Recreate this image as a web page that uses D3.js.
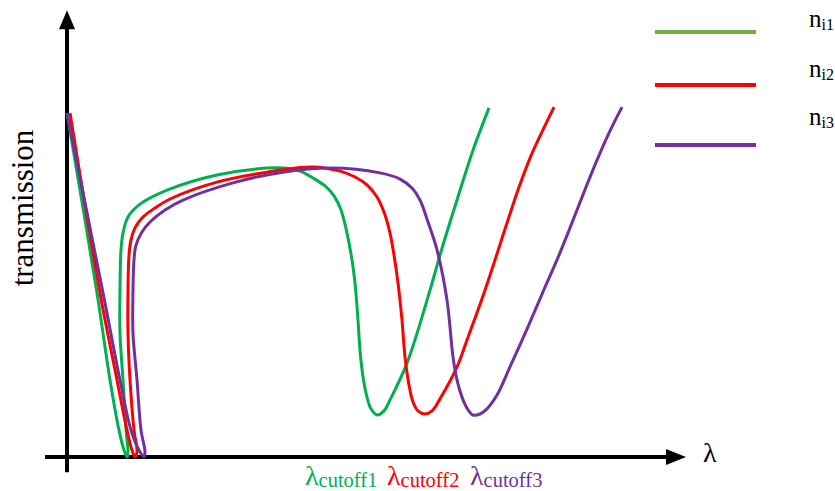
<!DOCTYPE html>
<html>
<head>
<meta charset="utf-8">
<script src="https://cdn.jsdelivr.net/npm/d3@7"></script>
<style>
  html, body { margin: 0; padding: 0; background: #fff; }
  svg { display: block; }
  text { font-family: "Liberation Serif", "Times New Roman", serif; }
</style>
</head>
<body>
<svg id="chart" width="835" height="491"></svg>
<script>
// Transmission spectra for three inner refractive indices (schematic).
// Wavelength in nm (schematic units), transmission normalised to the start value.
const seriesNames = ["n_i1", "n_i2", "n_i3"];
const curveColors = ["#00B050", "#FF0000", "#7030A0"];
const legendColors = ["#70AD47", "#FF0000", "#7030A0"];
const subLabels = ["i1", "i2", "i3"];
const cutoffLabels = ["cutoff1", "cutoff2", "cutoff3"];

const lambda1 = [400, 430, 443, 452, 457, 460, 461, 459, 456, 453, 453, 454, 456, 461, 473, 500, 550, 600, 618, 633, 646, 658, 667, 674, 680, 685, 688, 691, 693, 696, 700, 704, 710, 717, 723, 740, 763, 773, 790, 806, 822];
const trans1  = [1.000, 0.477, 0.224, 0.078, 0.020, 0.000, 0.015, 0.078, 0.224, 0.360, 0.485, 0.602, 0.651, 0.698, 0.735, 0.776, 0.820, 0.840, 0.840, 0.831, 0.811, 0.788, 0.759, 0.718, 0.651, 0.573, 0.506, 0.398, 0.311, 0.233, 0.174, 0.140, 0.122, 0.134, 0.166, 0.273, 0.485, 0.587, 0.747, 0.892, 1.015];

const lambda2 = [403, 433, 450, 460, 465, 468, 470, 467, 463, 461, 461, 462, 464, 468, 475, 488, 503, 550, 600, 646, 673, 688, 700, 710, 717, 723, 727, 731, 735, 738, 742, 746, 751, 758, 765, 773, 790, 800, 818, 840, 851, 863, 875, 887];
const trans2  = [1.000, 0.477, 0.224, 0.078, 0.020, 0.000, 0.015, 0.078, 0.224, 0.360, 0.485, 0.587, 0.631, 0.666, 0.695, 0.724, 0.750, 0.799, 0.828, 0.843, 0.831, 0.814, 0.791, 0.756, 0.712, 0.651, 0.587, 0.506, 0.398, 0.291, 0.209, 0.160, 0.134, 0.125, 0.134, 0.169, 0.262, 0.340, 0.485, 0.680, 0.776, 0.869, 0.945, 1.017];

const lambda3 = [400, 436, 453, 464, 472, 477, 478, 474, 470, 466, 466, 467, 469, 475, 483, 498, 516, 566, 616, 663, 713, 733, 745, 753, 761, 770, 780, 786, 790, 795, 800, 806, 813, 820, 830, 843, 860, 876, 890, 903, 917, 930, 943, 955];
const trans3  = [1.000, 0.477, 0.224, 0.078, 0.020, 0.000, 0.015, 0.078, 0.224, 0.360, 0.485, 0.573, 0.616, 0.654, 0.683, 0.718, 0.747, 0.797, 0.828, 0.840, 0.826, 0.808, 0.782, 0.747, 0.683, 0.602, 0.456, 0.291, 0.224, 0.174, 0.142, 0.122, 0.125, 0.140, 0.180, 0.262, 0.372, 0.480, 0.573, 0.666, 0.770, 0.863, 0.948, 1.017];

// wavelengths where the cutoff labels start
const cutoffLambda = [638, 720, 803];

const lambdaSeries = [lambda1, lambda2, lambda3];
const transSeries = [trans1, trans2, trans3];

const svg = d3.select("#chart");

const x = d3.scaleLinear().domain([400, 1020]).range([67, 687]);
const y = d3.scaleLinear().domain([0, 1]).range([457, 113]);

// axis extents in data units
const xAxisFrom = 378, xAxisTo = 1003, xTip = 1019;
const yAxisFrom = -0.044, yAxisTo = 1.255, yTip = 1.299;

const axes = svg.append("g");
axes.append("line")
  .attr("x1", x(xAxisFrom)).attr("x2", x(xAxisTo))
  .attr("y1", y(0)).attr("y2", y(0))
  .attr("stroke", "#000").attr("stroke-width", 4);
axes.append("path")
  .attr("d", `M${x(xTip)},${y(0)} L${x(xAxisTo) - 4},${y(0) - 8} L${x(xAxisTo) - 4},${y(0) + 8} Z`)
  .attr("fill", "#000");
axes.append("line")
  .attr("x1", x(400)).attr("x2", x(400))
  .attr("y1", y(yAxisFrom)).attr("y2", y(yAxisTo))
  .attr("stroke", "#000").attr("stroke-width", 4);
axes.append("path")
  .attr("d", `M${x(400)},${y(yTip)} L${x(400) - 8},${y(yAxisTo) + 4} L${x(400) + 8},${y(yAxisTo) + 4} Z`)
  .attr("fill", "#000");

// spectra
const line = d3.line()
  .x(d => x(d[0]))
  .y(d => y(d[1]))
  .curve(d3.curveCatmullRom.alpha(0.5));

seriesNames.forEach((name, i) => {
  const pts = lambdaSeries[i].map((l, k) => [l, transSeries[i][k]]);
  svg.append("path")
    .datum(pts)
    .attr("d", line)
    .attr("fill", "none")
    .attr("stroke", curveColors[i])
    .attr("stroke-width", 3)
    .attr("stroke-linejoin", "round")
    .attr("stroke-linecap", "butt");
});

// axis titles
svg.append("text")
  .attr("transform", "translate(33,208) rotate(-90)")
  .attr("text-anchor", "middle")
  .attr("font-size", 31)
  .attr("fill", "#000")
  .text("transmission");

svg.append("text")
  .attr("x", 703).attr("y", 462)
  .attr("font-size", 28)
  .attr("fill", "#000")
  .text("λ");

// cutoff labels
cutoffLabels.forEach((lab, i) => {
  const t = svg.append("text")
    .attr("x", x(cutoffLambda[i])).attr("y", 485)
    .attr("fill", curveColors[i]);
  t.append("tspan").attr("font-size", 28).text("λ");
  t.append("tspan").attr("font-size", 20.5).attr("dy", 2).text(lab);
});

// legend
const legendY = [32, 85, 145];
const legendTextY = [27, 77, 125];
seriesNames.forEach((name, i) => {
  svg.append("line")
    .attr("x1", 655).attr("x2", 756)
    .attr("y1", legendY[i]).attr("y2", legendY[i])
    .attr("stroke", legendColors[i])
    .attr("stroke-width", 4);
  const t = svg.append("text")
    .attr("x", 809).attr("y", legendTextY[i])
    .attr("fill", "#000");
  t.append("tspan").attr("font-size", 25).text("n");
  t.append("tspan").attr("font-size", 16).attr("dy", 3).text(subLabels[i]);
});
</script>
</body>
</html>
